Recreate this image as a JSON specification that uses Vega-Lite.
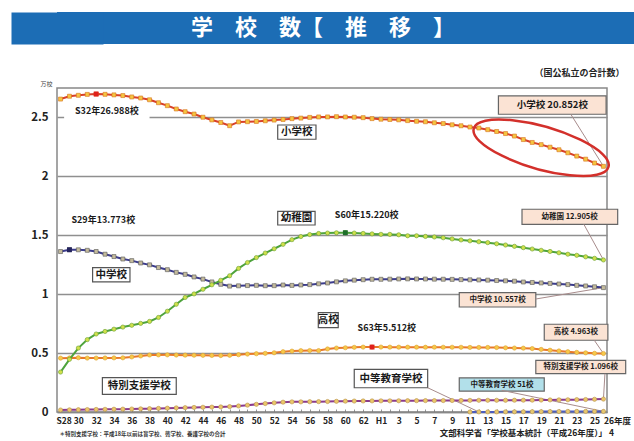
{
  "$schema": "https://vega.github.io/schema/vega-lite/v6.json",
  "background": "white",
  "padding": {"left": 10, "top": 12, "right": 0, "bottom": 0},
  "config": {"font": "Noto Sans CJK JP", "view": {"stroke": null}},
  "spacing": 24,
  "datasets": {
    "schools": [
      {"year": 1953, "elem": 2.656, "jhs": 1.362, "kinder": 0.339, "hs": 0.4572, "special": 0.017},
      {"year": 1954, "elem": 2.68, "jhs": 1.3773, "kinder": 0.447, "hs": 0.4586, "special": 0.0182},
      {"year": 1955, "elem": 2.688, "jhs": 1.3767, "kinder": 0.5426, "hs": 0.4607, "special": 0.0194},
      {"year": 1956, "elem": 2.6957, "jhs": 1.3724, "kinder": 0.6141, "hs": 0.4575, "special": 0.0207},
      {"year": 1957, "elem": 2.6988, "jhs": 1.3622, "kinder": 0.662, "hs": 0.4577, "special": 0.0216},
      {"year": 1958, "elem": 2.6964, "jhs": 1.3392, "kinder": 0.6837, "hs": 0.4585, "special": 0.0226},
      {"year": 1959, "elem": 2.6916, "jhs": 1.3194, "kinder": 0.703, "hs": 0.4593, "special": 0.0234},
      {"year": 1960, "elem": 2.6858, "jhs": 1.2986, "kinder": 0.7207, "hs": 0.4598, "special": 0.0243},
      {"year": 1961, "elem": 2.6741, "jhs": 1.2849, "kinder": 0.7359, "hs": 0.4673, "special": 0.0254},
      {"year": 1962, "elem": 2.665, "jhs": 1.2647, "kinder": 0.752, "hs": 0.4757, "special": 0.0268},
      {"year": 1963, "elem": 2.65, "jhs": 1.2489, "kinder": 0.7687, "hs": 0.4838, "special": 0.0285},
      {"year": 1964, "elem": 2.625, "jhs": 1.2262, "kinder": 0.8022, "hs": 0.4847, "special": 0.0306},
      {"year": 1965, "elem": 2.6, "jhs": 1.2079, "kinder": 0.8551, "hs": 0.4849, "special": 0.0326},
      {"year": 1966, "elem": 2.572, "jhs": 1.1851, "kinder": 0.9144, "hs": 0.4835, "special": 0.0349},
      {"year": 1967, "elem": 2.549, "jhs": 1.1684, "kinder": 0.9719, "hs": 0.4827, "special": 0.0368},
      {"year": 1968, "elem": 2.529, "jhs": 1.1463, "kinder": 1.0021, "hs": 0.4817, "special": 0.0386},
      {"year": 1969, "elem": 2.502, "jhs": 1.1278, "kinder": 1.0418, "hs": 0.4807, "special": 0.0401},
      {"year": 1970, "elem": 2.479, "jhs": 1.104, "kinder": 1.0796, "hs": 0.4798, "special": 0.0415},
      {"year": 1971, "elem": 2.457, "jhs": 1.0839, "kinder": 1.118, "hs": 0.4791, "special": 0.0431},
      {"year": 1972, "elem": 2.43, "jhs": 1.0686, "kinder": 1.1564, "hs": 0.481, "special": 0.0457},
      {"year": 1973, "elem": 2.462, "jhs": 1.071, "kinder": 1.2186, "hs": 0.4862, "special": 0.0512},
      {"year": 1974, "elem": 2.464, "jhs": 1.0729, "kinder": 1.2686, "hs": 0.4916, "special": 0.0583},
      {"year": 1975, "elem": 2.466, "jhs": 1.0751, "kinder": 1.3106, "hs": 0.4946, "special": 0.065},
      {"year": 1976, "elem": 2.4717, "jhs": 1.0719, "kinder": 1.3492, "hs": 0.4978, "special": 0.0717},
      {"year": 1977, "elem": 2.4777, "jhs": 1.0723, "kinder": 1.3854, "hs": 0.5028, "special": 0.0778},
      {"year": 1978, "elem": 2.4828, "jhs": 1.0778, "kinder": 1.4229, "hs": 0.5115, "special": 0.0834},
      {"year": 1979, "elem": 2.4899, "jhs": 1.0745, "kinder": 1.4627, "hs": 0.5168, "special": 0.086},
      {"year": 1980, "elem": 2.4945, "jhs": 1.078, "kinder": 1.4893, "hs": 0.5208, "special": 0.086},
      {"year": 1981, "elem": 2.5005, "jhs": 1.081, "kinder": 1.5059, "hs": 0.5219, "special": 0.0872},
      {"year": 1982, "elem": 2.5043, "jhs": 1.0879, "kinder": 1.5152, "hs": 0.5213, "special": 0.088},
      {"year": 1983, "elem": 2.5045, "jhs": 1.095, "kinder": 1.5189, "hs": 0.5352, "special": 0.089},
      {"year": 1984, "elem": 2.5064, "jhs": 1.1047, "kinder": 1.5211, "hs": 0.5427, "special": 0.0906},
      {"year": 1985, "elem": 2.504, "jhs": 1.1131, "kinder": 1.522, "hs": 0.5453, "special": 0.0921},
      {"year": 1986, "elem": 2.502, "jhs": 1.119, "kinder": 1.5189, "hs": 0.5489, "special": 0.0929},
      {"year": 1987, "elem": 2.4982, "jhs": 1.123, "kinder": 1.5156, "hs": 0.5507, "special": 0.0937},
      {"year": 1988, "elem": 2.4901, "jhs": 1.1266, "kinder": 1.5115, "hs": 0.5512, "special": 0.0942},
      {"year": 1989, "elem": 2.4851, "jhs": 1.1264, "kinder": 1.508, "hs": 0.5511, "special": 0.0947},
      {"year": 1990, "elem": 2.4827, "jhs": 1.1275, "kinder": 1.5076, "hs": 0.5506, "special": 0.0947},
      {"year": 1991, "elem": 2.4798, "jhs": 1.129, "kinder": 1.5041, "hs": 0.5503, "special": 0.0953},
      {"year": 1992, "elem": 2.473, "jhs": 1.13, "kinder": 1.4958, "hs": 0.5501, "special": 0.0959},
      {"year": 1993, "elem": 2.4676, "jhs": 1.1292, "kinder": 1.4958, "hs": 0.5501, "special": 0.0964},
      {"year": 1994, "elem": 2.4635, "jhs": 1.1289, "kinder": 1.4901, "hs": 0.5497, "special": 0.0968},
      {"year": 1995, "elem": 2.4548, "jhs": 1.1274, "kinder": 1.4856, "hs": 0.5501, "special": 0.0967},
      {"year": 1996, "elem": 2.4482, "jhs": 1.1269, "kinder": 1.479, "hs": 0.5496, "special": 0.097},
      {"year": 1997, "elem": 2.4376, "jhs": 1.1257, "kinder": 1.469, "hs": 0.5496, "special": 0.0974},
      {"year": 1998, "elem": 2.4295, "jhs": 1.1236, "kinder": 1.4603, "hs": 0.5493, "special": 0.0977},
      {"year": 1999, "elem": 2.4188, "jhs": 1.122, "kinder": 1.4527, "hs": 0.5481, "special": 0.0986, "secondary": 0.0001},
      {"year": 2000, "elem": 2.4106, "jhs": 1.1209, "kinder": 1.4451, "hs": 0.5478, "special": 0.0992, "secondary": 0.0004},
      {"year": 2001, "elem": 2.3964, "jhs": 1.1191, "kinder": 1.4375, "hs": 0.5479, "special": 0.0995, "secondary": 0.0007},
      {"year": 2002, "elem": 2.3808, "jhs": 1.1159, "kinder": 1.4279, "hs": 0.5472, "special": 0.0996, "secondary": 0.0009},
      {"year": 2003, "elem": 2.3633, "jhs": 1.1134, "kinder": 1.4174, "hs": 0.545, "special": 0.0995, "secondary": 0.0016},
      {"year": 2004, "elem": 2.342, "jhs": 1.1102, "kinder": 1.4061, "hs": 0.5429, "special": 0.0999, "secondary": 0.0018},
      {"year": 2005, "elem": 2.3123, "jhs": 1.1035, "kinder": 1.3949, "hs": 0.5418, "special": 0.1002, "secondary": 0.0019},
      {"year": 2006, "elem": 2.2878, "jhs": 1.0992, "kinder": 1.3835, "hs": 0.5385, "special": 0.1006, "secondary": 0.0027},
      {"year": 2007, "elem": 2.2693, "jhs": 1.0955, "kinder": 1.3723, "hs": 0.5313, "special": 0.1013, "secondary": 0.0032},
      {"year": 2008, "elem": 2.2476, "jhs": 1.0915, "kinder": 1.3626, "hs": 0.5243, "special": 0.1026, "secondary": 0.0037},
      {"year": 2009, "elem": 2.2258, "jhs": 1.0864, "kinder": 1.3516, "hs": 0.5183, "special": 0.103, "secondary": 0.0042},
      {"year": 2010, "elem": 2.2, "jhs": 1.0815, "kinder": 1.3392, "hs": 0.5116, "special": 0.1039, "secondary": 0.0048},
      {"year": 2011, "elem": 2.1721, "jhs": 1.0751, "kinder": 1.3299, "hs": 0.506, "special": 0.1049, "secondary": 0.0049},
      {"year": 2012, "elem": 2.146, "jhs": 1.0699, "kinder": 1.317, "hs": 0.5022, "special": 0.1059, "secondary": 0.0049},
      {"year": 2013, "elem": 2.1131, "jhs": 1.0628, "kinder": 1.3043, "hs": 0.4981, "special": 0.108, "secondary": 0.005},
      {"year": 2014, "elem": 2.0852, "jhs": 1.0557, "kinder": 1.2905, "hs": 0.4963, "special": 0.1096, "secondary": 0.0051}
    ],
    "peaks": [
      {"year": 1957, "value": 2.6988, "series": "小学校"},
      {"year": 1954, "value": 1.3773, "series": "中学校"},
      {"year": 1985, "value": 1.522, "series": "幼稚園"},
      {"year": 1988, "value": 0.5512, "series": "高校"}
    ],
    "mask": [{"year": 1953.4, "year2": 1963.0, "value": 2.615, "value2": 2.479}],
    "boxesWhite": [
      {"year": 1977.4, "year2": 1981.7, "value": 2.436, "value2": 2.315},
      {"year": 1977.4, "year2": 1981.6, "value": 1.702, "value2": 1.587},
      {"year": 1956.6, "year2": 1960.8, "value": 1.225, "value2": 1.104},
      {"year": 1981.96, "year2": 1984.2, "value": 0.843, "value2": 0.716},
      {"year": 1957.7, "year2": 1966.0, "value": 0.291, "value2": 0.15},
      {"year": 1986.0, "year2": 1994.25, "value": 0.362, "value2": 0.206}
    ],
    "boxesPeach": [
      {"year": 2002.2, "year2": 2014.3, "value": 2.683, "value2": 2.527},
      {"year": 2004.85, "year2": 2015.6, "value": 1.721, "value2": 1.593},
      {"year": 1997.8, "year2": 2006.4, "value": 1.013, "value2": 0.891},
      {"year": 2007.35, "year2": 2014.5, "value": 0.745, "value2": 0.609},
      {"year": 2006.4, "year2": 2016.5, "value": 0.439, "value2": 0.325}
    ],
    "boxCyan": [{"year": 1997.8, "year2": 2007.35, "value": 0.289, "value2": 0.178}],
    "leaders": [
      {"year": 2010.35, "value": 2.525, "year2": 2014, "value2": 2.0852},
      {"year": 2011.8, "value": 1.593, "year2": 2014, "value2": 1.2905},
      {"year": 2006.4, "value": 0.959, "year2": 2014, "value2": 1.0557},
      {"year": 2012.97, "value": 0.609, "year2": 2014, "value2": 0.4963},
      {"year": 2014.17, "value": 0.325, "year2": 2014, "value2": 0.1096},
      {"year": 2002.57, "value": 0.184, "year2": 2014, "value2": 0.0051},
      {"year": 1994.25, "value": 0.206, "year2": 2000, "value2": 0.0004}
    ],
    "bigLabels": [
      {"year": 1979.55, "value": 2.375, "t": "小学校"},
      {"year": 1979.5, "value": 1.645, "t": "幼稚園"},
      {"year": 1958.7, "value": 1.165, "t": "中学校"},
      {"year": 1983.08, "value": 0.78, "t": "高校"},
      {"year": 1961.85, "value": 0.22, "t": "特別支援学校"},
      {"year": 1990.12, "value": 0.284, "t": "中等教育学校"}
    ],
    "mainCallout": [{"year": 2008.25, "value": 2.605, "t": "小学校 20.852校"}],
    "smallCallouts": [
      {"year": 2010.2, "value": 1.657, "t": "幼稚園 12.905校"},
      {"year": 2002.1, "value": 0.952, "t": "中学校 10.557校"},
      {"year": 2010.9, "value": 0.677, "t": "高校 4.963校"},
      {"year": 2011.45, "value": 0.382, "t": "特別支援学校 1.096校"},
      {"year": 2002.6, "value": 0.233, "t": "中等教育学校 51校"}
    ],
    "peakNotes": [
      {"year": 1958.2, "value": 2.555, "t": "S32年26.988校"},
      {"year": 1957.8, "value": 1.628, "t": "S29年13.773校"},
      {"year": 1987.4, "value": 1.668, "t": "S60年15.220校"},
      {"year": 1989.66, "value": 0.716, "t": "S63年5.512校"}
    ],
    "source": [{"year": 2014.4, "value": -0.18, "t": "文部科学省「学校基本統計（平成26年度）」 4"}],
    "focus": [{"year": 2007, "value": 2.243}]
  },
  "vconcat": [
    {
      "width": 578,
      "height": 32,
      "view": {"fill": "#1c6db5", "stroke": null},
      "data": {"values": [{"t": "学　校　数【　推　移　】"}]},
      "mark": {"type": "text", "color": "white", "fontSize": 22, "fontWeight": "bold", "font": "Noto Sans CJK JP", "align": "center", "baseline": "middle"},
      "encoding": {
        "text": {"field": "t"},
        "x": {"datum": 0.46, "type": "quantitative", "scale": {"domain": [0, 1]}, "axis": null},
        "y": {"datum": 0.5, "type": "quantitative", "scale": {"domain": [0, 1]},
              "axis": {"domain": true, "domainColor": "#1c6db5", "domainWidth": 92, "labels": false, "ticks": false, "grid": false, "title": null, "minExtent": 46, "maxExtent": 46}}
      }
    },
    {
      "width": 550,
      "height": 324,
      "title": {"text": "（国公私立の合計数）", "anchor": "end", "fontSize": 9, "fontWeight": "bold", "color": "#222", "offset": 2, "dx": -6},
      "view": {"stroke": "#888", "strokeWidth": 1.5},
      "encoding": {
        "x": {
          "field": "year", "type": "quantitative",
          "scale": {"domain": [1952.6, 2014.4], "nice": false, "zero": false},
          "axis": {
            "values": [1953,1954,1955,1956,1957,1958,1959,1960,1961,1962,1963,1964,1965,1966,1967,1968,1969,1970,1971,1972,1973,1974,1975,1976,1977,1978,1979,1980,1981,1982,1983,1984,1985,1986,1987,1988,1989,1990,1991,1992,1993,1994,1995,1996,1997,1998,1999,2000,2001,2002,2003,2004,2005,2006,2007,2008,2009,2010,2011,2012,2013,2014],
            "labelExpr": "datum.value==1953?'S28':datum.value==1989?'H1':datum.value==2014?'26年度':datum.value%2==0?'':datum.value<1989?''+(datum.value-1925):''+(datum.value-1988)",
            "labelAlign": {"condition": {"test": "datum.value==2014", "value": "left"}, "value": "center"},
            "labelOffset": {"condition": {"test": "datum.value==1953", "value": 3}, "value": 0},
            "labelFontSize": 8.5, "labelFontWeight": "bold", "labelColor": "#222", "labelPadding": 7,
            "labelOverlap": false, "labelFlush": false, "labelBound": false,
            "tickSize": -3, "tickColor": "#777", "tickWidth": 0.8,
            "domainColor": "#888", "domainWidth": 1.5, "grid": false,
            "title": "＊特別支援学校：平成18年以前は盲学校、聾学校、養護学校の合計",
            "titleAnchor": "start", "titleAlign": "left", "titleX": 2, "titleY": 21, "titleBaseline": "middle",
            "titleFontSize": 5.5, "titleFontWeight": "bold", "titleColor": "#333"
          }
        },
        "y": {
          "field": "value", "type": "quantitative",
          "scale": {"domain": [0, 2.75], "nice": false},
          "axis": {
            "values": [0, 0.5, 1, 1.5, 2, 2.5], "format": "~g",
            "ticks": false, "domain": false, "grid": true, "gridColor": "#8f8f8f", "gridWidth": 1.5,
            "labelFontSize": 11.5, "labelFontWeight": "bold", "labelColor": "#222", "labelPadding": 9,
            "minExtent": 46, "maxExtent": 46,
            "title": "万校", "titleAngle": 0, "titleAlign": "right", "titleBaseline": "bottom",
            "titleX": -5, "titleY": -2, "titleFontSize": 6, "titleFontWeight": "normal", "titleColor": "#444"
          }
        }
      },
      "layer": [
        {"data": {"name": "mask"}, "mark": {"type": "rect", "fill": "white"}, "encoding": {"x2": {"field": "year2"}, "y2": {"field": "value2"}}},
        {"data": {"name": "boxesWhite"}, "mark": {"type": "rect", "fill": "white", "stroke": "#555", "strokeWidth": 1.2}, "encoding": {"x2": {"field": "year2"}, "y2": {"field": "value2"}}},
        {"data": {"name": "boxesPeach"}, "mark": {"type": "rect", "fill": "#fbe3d4", "stroke": "#666", "strokeWidth": 1.2}, "encoding": {"x2": {"field": "year2"}, "y2": {"field": "value2"}}},
        {"data": {"name": "boxCyan"}, "mark": {"type": "rect", "fill": "#b2e0ea", "stroke": "#666", "strokeWidth": 1.2}, "encoding": {"x2": {"field": "year2"}, "y2": {"field": "value2"}}},
        {"data": {"name": "leaders"}, "mark": {"type": "rule", "color": "#a88c8c", "strokeWidth": 1}, "encoding": {"x2": {"field": "year2"}, "y2": {"field": "value2"}}},
        {"data": {"name": "schools"}, "transform": [{"fold": ["special"], "as": ["series", "value"]}],
         "mark": {"type": "line", "color": "#8a3a8e", "strokeWidth": 2, "point": {"filled": true, "shape": "circle", "size": 18, "fill": "#ebc76a", "stroke": "#b8924a", "strokeWidth": 0.6}}},
        {"data": {"name": "schools"}, "transform": [{"fold": ["secondary"], "as": ["series", "value"]}, {"filter": "isValid(datum.value)"}],
         "mark": {"type": "line", "color": "#4a5cc0", "strokeWidth": 2, "point": {"filled": true, "shape": "circle", "size": 18, "fill": "#e6c870", "stroke": "#b8924a", "strokeWidth": 0.6}}},
        {"data": {"name": "schools"}, "transform": [{"fold": ["hs"], "as": ["series", "value"]}],
         "mark": {"type": "line", "color": "#e8782a", "strokeWidth": 2, "point": {"filled": true, "shape": "circle", "size": 18, "fill": "#f6c94a", "stroke": "#dfa030", "strokeWidth": 0.6}}},
        {"data": {"name": "schools"}, "transform": [{"fold": ["jhs"], "as": ["series", "value"]}],
         "mark": {"type": "line", "color": "#3c3c8c", "strokeWidth": 2, "point": {"filled": true, "shape": "square", "size": 16, "fill": "#c4bb9c", "stroke": "#555", "strokeWidth": 0.6}}},
        {"data": {"name": "schools"}, "transform": [{"fold": ["kinder"], "as": ["series", "value"]}],
         "mark": {"type": "line", "color": "#4ea33c", "strokeWidth": 2, "point": {"filled": true, "shape": "circle", "size": 18, "fill": "#cfe04c", "stroke": "#6aa030", "strokeWidth": 0.6}}},
        {"data": {"name": "schools"}, "transform": [{"fold": ["elem"], "as": ["series", "value"]}],
         "mark": {"type": "line", "color": "#d8402a", "strokeWidth": 2, "point": {"filled": true, "shape": "square", "size": 16, "fill": "#f4c542", "stroke": "#d8701c", "strokeWidth": 0.6}}},
        {"data": {"name": "peaks"}, "mark": {"type": "point", "filled": true, "shape": "square", "size": 24, "opacity": 1},
         "encoding": {"color": {"field": "series", "type": "nominal", "scale": {"domain": ["小学校", "中学校", "幼稚園", "高校"], "range": ["#e0201c", "#24245e", "#1d6e2a", "#e0201c"]}, "legend": null}}},
        {"data": {"name": "focus"}, "mark": {"type": "point", "shape": "M -0.961 -0.276 A 1 0.3 16 1 1 0.961 0.276 A 1 0.3 16 1 1 -0.961 -0.276 Z", "size": 19600, "filled": false, "stroke": "#d3302b", "strokeWidth": 2.5, "opacity": 1}},
        {"data": {"name": "bigLabels"}, "mark": {"type": "text", "fontSize": 10.5, "fontWeight": "bold", "color": "#1a1a1a"}, "encoding": {"text": {"field": "t"}}},
        {"data": {"name": "mainCallout"}, "mark": {"type": "text", "fontSize": 9.5, "fontWeight": "bold", "color": "#1a1a1a"}, "encoding": {"text": {"field": "t"}}},
        {"data": {"name": "smallCallouts"}, "mark": {"type": "text", "fontSize": 7.5, "fontWeight": "bold", "color": "#1a1a1a"}, "encoding": {"text": {"field": "t"}}},
        {"data": {"name": "peakNotes"}, "mark": {"type": "text", "fontSize": 9, "fontWeight": "bold", "color": "#1a1a1a"}, "encoding": {"text": {"field": "t"}}},
        {"data": {"name": "source"}, "mark": {"type": "text", "fontSize": 8.5, "fontWeight": "bold", "color": "#222", "align": "right", "dx": 7}, "encoding": {"text": {"field": "t"}}}
      ]
    }
  ]
}
